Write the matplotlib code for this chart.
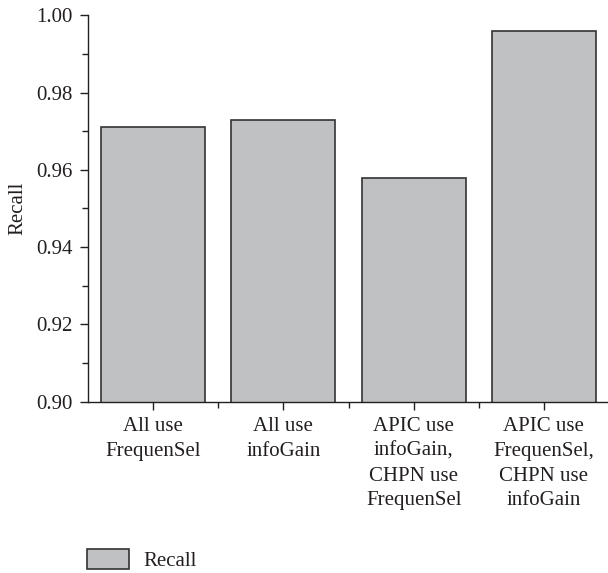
#!/usr/bin/env python3
"""Recall of the four feature-selection combinations (bar chart)."""
import matplotlib
matplotlib.use("Agg")
import matplotlib.pyplot as plt
from matplotlib.ticker import MultipleLocator, FixedLocator, FormatStrFormatter
from matplotlib.patches import Patch

# categories / values
CATEGORIES = ["All use\nFrequenSel",
              "All use\ninfoGain",
              "APIC use\ninfoGain,\nCHPN use\nFrequenSel",
              "APIC use\nFrequenSel,\nCHPN use\ninfoGain"]
RECALL = [0.971, 0.973, 0.958, 0.996]

BAR_COLOR = "#c0c1c3"
EDGE = "#333333"
INK = "#231f20"
FS = 15

plt.rcParams["font.family"] = ["Liberation Serif", "DejaVu Serif"]
plt.rcParams["font.size"] = FS
plt.rcParams["text.color"] = INK

fig = plt.figure(figsize=(6.08, 5.73), dpi=100)
ax = fig.add_axes([0.1447, 0.2993, 0.857, 0.674])

x = list(range(len(CATEGORIES)))
ax.bar(x, RECALL, width=0.8, color=BAR_COLOR, edgecolor=EDGE,
       linewidth=1.2, label="Recall")

ax.set_xlim(-0.5, 3.5)
ax.set_ylim(0.90, 1.00)
ax.yaxis.set_major_locator(MultipleLocator(0.02))
ax.yaxis.set_minor_locator(MultipleLocator(0.01))
ax.yaxis.set_major_formatter(FormatStrFormatter("%.2f"))
ax.set_xticks(x)
ax.set_xticklabels(CATEGORIES, linespacing=1.42)
ax.xaxis.set_minor_locator(FixedLocator([0.5, 1.5, 2.5]))

for side in ("top", "right"):
    ax.spines[side].set_visible(False)
for side in ("left", "bottom"):
    ax.spines[side].set_color(INK)
    ax.spines[side].set_linewidth(1.0)

ax.tick_params(which="major", direction="out", length=6, width=1.0,
               color=INK, labelcolor=INK, labelsize=FS)
ax.tick_params(axis="y", which="major", pad=5)
ax.tick_params(axis="x", which="major", pad=5)
ax.tick_params(which="minor", direction="out", length=4, width=1.0, color=INK)

ax.set_ylabel("Recall", fontsize=FS, color=INK, labelpad=6)

fig.legend(handles=[Patch(facecolor=BAR_COLOR, edgecolor=EDGE, linewidth=1.2,
                          label="Recall")],
           loc="lower left", bbox_to_anchor=(0.113, -0.03), frameon=False,
           fontsize=FS, handlelength=2.0, handleheight=1.1, handletextpad=0.7)

fig.savefig("out.png", dpi=100)
